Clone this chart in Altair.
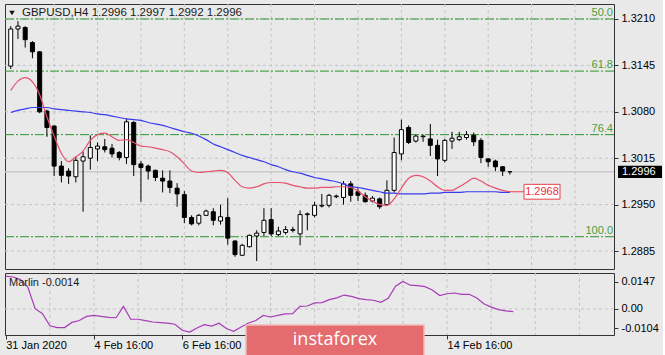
import altair as alt
import pandas as pd

# ---------------- data ----------------
symbol_header = ["GBPUSD,H4  1.2996 1.2997 1.2992 1.2996"]
indicator_header = ["Marlin -0.0014"]

opens = [1.3144, 1.3196, 1.3198, 1.3177, 1.3164, 1.3081, 1.3060, 1.3004, 1.2997, 1.2989,
         1.3011, 1.3015, 1.3028, 1.3031, 1.3029, 1.3023, 1.3016, 1.3065, 1.3007, 1.3004,
         1.2998, 1.2987, 1.2983, 1.2973, 1.2964, 1.2932, 1.2924, 1.2935, 1.2940, 1.2927,
         1.2932, 1.2899, 1.2879, 1.2891, 1.2906, 1.2911, 1.2929, 1.2908, 1.2911, 1.2914,
         1.2909, 1.2936, 1.2935, 1.2948, 1.2949, 1.2961, 1.2960, 1.2979, 1.2968, 1.2963,
         1.2955, 1.2958, 1.2950, 1.2970, 1.3021, 1.3058, 1.3039, 1.3045, 1.3042, 1.3033,
         1.3012, 1.3039, 1.3041, 1.3044, 1.3047, 1.3040, 1.3014, 1.3011, 1.3003, 1.2996]
highs = [1.3200, 1.3207, 1.3200, 1.3179, 1.3165, 1.3083, 1.3061, 1.3011, 1.3001, 1.3017,
         1.3024, 1.3047, 1.3037, 1.3042, 1.3035, 1.3025, 1.3070, 1.3067, 1.3011, 1.3006,
         1.2999, 1.2998, 1.2998, 1.2980, 1.2969, 1.2935, 1.2937, 1.2943, 1.2945, 1.2950,
         1.2959, 1.2900, 1.2895, 1.2908, 1.2914, 1.2945, 1.2945, 1.2919, 1.2920, 1.2919,
         1.2942, 1.2939, 1.2954, 1.2965, 1.2965, 1.2964, 1.2983, 1.2983, 1.2973, 1.2967,
         1.2962, 1.2960, 1.2984, 1.3044, 1.3069, 1.3061, 1.3048, 1.3048, 1.3063, 1.3041,
         1.3042, 1.3052, 1.3052, 1.3053, 1.3051, 1.3043, 1.3015, 1.3013, 1.3004, 1.2997]
lows = [1.3140, 1.3182, 1.3170, 1.3155, 1.3078, 1.3045, 1.2990, 1.2981, 1.2979, 1.2981,
        1.2940, 1.2999, 1.3011, 1.3023, 1.3016, 1.3012, 1.3007, 1.2990, 1.2954, 1.2985,
        1.2983, 1.2967, 1.2966, 1.2947, 1.2924, 1.2921, 1.2921, 1.2934, 1.2921, 1.2922,
        1.2894, 1.2877, 1.2878, 1.2890, 1.2871, 1.2906, 1.2906, 1.2906, 1.2908, 1.2911,
        1.2893, 1.2914, 1.2932, 1.2946, 1.2946, 1.2959, 1.2950, 1.2954, 1.2955, 1.2953,
        1.2953, 1.2944, 1.2948, 1.2967, 1.3012, 1.3035, 1.3037, 1.3038, 1.3018, 1.2990,
        1.3009, 1.3028, 1.3039, 1.3041, 1.3032, 1.3008, 1.3003, 1.2997, 1.2990, 1.2992]
closes = [1.3196, 1.3200, 1.3181, 1.3164, 1.3080, 1.3058, 1.3004, 1.2991, 1.2990, 1.3012,
          1.3017, 1.3030, 1.3032, 1.3027, 1.3021, 1.3016, 1.3066, 1.3006, 1.3002, 1.2997,
          1.2988, 1.2983, 1.2974, 1.2965, 1.2932, 1.2923, 1.2935, 1.2941, 1.2928, 1.2933,
          1.2903, 1.2880, 1.2893, 1.2907, 1.2910, 1.2928, 1.2909, 1.2913, 1.2915, 1.2915,
          1.2936, 1.2937, 1.2949, 1.2949, 1.2963, 1.2962, 1.2979, 1.2963, 1.2963, 1.2954,
          1.2959, 1.2947, 1.2970, 1.3023, 1.3055, 1.3037, 1.3046, 1.3046, 1.3033, 1.3014,
          1.3040, 1.3043, 1.3045, 1.3048, 1.3038, 1.3016, 1.3010, 1.3003, 1.2997, 1.2996]

ma_fast = [1.3110, 1.3123, 1.3128, 1.3122, 1.3104, 1.3073, 1.3046, 1.3022, 1.3010, 1.3017,
           1.3025, 1.3040, 1.3048, 1.3050, 1.3045, 1.3040, 1.3041, 1.3037, 1.3032, 1.3031,
           1.3029, 1.3027, 1.3024, 1.3017, 1.3007, 1.2997, 1.2995, 1.2996, 1.2997, 1.2998,
           1.2995, 1.2984, 1.2975, 1.2973, 1.2975, 1.2979, 1.2981, 1.2981, 1.2980, 1.2977,
           1.2975, 1.2973, 1.2973, 1.2974, 1.2974, 1.2975, 1.2975, 1.2974, 1.2969, 1.2961,
           1.2955, 1.2950, 1.2949, 1.2958, 1.2973, 1.2987, 1.2991, 1.2989, 1.2983, 1.2975,
           1.2970, 1.2970, 1.2975, 1.2981, 1.2987, 1.2983, 1.2977, 1.2973, 1.2970, 1.2968]
ma_slow = [1.3079, 1.3082, 1.3084, 1.3086, 1.3086, 1.3086, 1.3084, 1.3083, 1.3082, 1.3081,
           1.3080, 1.3079, 1.3077, 1.3076, 1.3074, 1.3072, 1.3070, 1.3069, 1.3068, 1.3065,
           1.3063, 1.3061, 1.3058, 1.3055, 1.3052, 1.3050, 1.3046, 1.3041, 1.3035, 1.3031,
           1.3027, 1.3023, 1.3019, 1.3016, 1.3013, 1.3010, 1.3006, 1.3003, 1.2999, 1.2996,
           1.2994, 1.2991, 1.2988, 1.2986, 1.2984, 1.2982, 1.2979, 1.2975, 1.2974, 1.2972,
           1.2970, 1.2968, 1.2966, 1.2966, 1.2965, 1.2965, 1.2965, 1.2965, 1.2966, 1.2966,
           1.2967, 1.2967, 1.2967, 1.2968, 1.2968, 1.2968, 1.2968, 1.2968, 1.2967, 1.2967]
marlin = [0.0177, 0.0172, 0.0158, 0.0118, 0.0002, -0.0025, -0.0090, -0.0100, -0.0100, -0.0072,
          -0.0062, -0.0040, -0.0034, -0.0040, -0.0045, -0.0047, 0.0014, -0.0055, -0.0055, -0.0062,
          -0.0070, -0.0073, -0.0076, -0.0082, -0.0114, -0.0124, -0.0102, -0.0084, -0.0092, -0.0076,
          -0.0105, -0.0120, -0.0097, -0.0075, -0.0062, -0.0035, -0.0043, -0.0034, -0.0026, -0.0025,
          0.0014, 0.0016, 0.0033, 0.0034, 0.0050, 0.0060, 0.0075, 0.0068, 0.0056, 0.0050,
          0.0047, 0.0036, 0.0058, 0.0122, 0.0148, 0.0128, 0.0126, 0.0120, 0.0102, 0.0072,
          0.0082, 0.0086, 0.0079, 0.0079, 0.0060, 0.0028, 0.0010, -0.0003, -0.0010, -0.0014]

fib_prices = [1.3210, 1.3137, 1.3048, 1.2905]
fib_labels = ["50.0", "61.8", "76.4", "100.0"]
price_ticks = [1.3210, 1.3145, 1.3080, 1.3015, 1.2950, 1.2885]
bid_price = [1.2996]
marlin_ticks = [0.0147, 0.0, -0.0104]
marlin_tick_labels = ["0.0147", "0.00", "-0.0104"]
# the 10 Feb and 12 Feb labels sit under the watermark in the reference, so only visible ones
date_tick_pos = [0, 12, 24, 60]
date_tick_labels = ["31 Jan 2020", "4 Feb 16:00", "6 Feb 16:00", "14 Feb 16:00"]
grid_pos = [6, 12, 18, 24, 30, 36, 42, 48, 54, 60, 66, 72, 78]
watermark = ["instaforex"]

# ---------------- tables ----------------
idx = list(range(len(closes)))
candles = pd.DataFrame({"i": idx, "o": opens, "h": highs, "l": lows, "c": closes})
lines = pd.DataFrame({"i": idx, "fast": ma_fast, "slow": ma_slow, "marlin": marlin})
fib_df = pd.DataFrame({"p": fib_prices, "lab": fib_labels})
ticks_df = pd.DataFrame({"p": price_ticks})
grid_df = pd.DataFrame({"g": grid_pos})
bid_df = pd.DataFrame({"p": bid_price, "lab": [f"{bid_price[0]:.4f}"]})
ma_lab_df = pd.DataFrame({"i": [idx[-1]], "p": [ma_fast[-1]], "lab": [f"{ma_fast[-1]:.4f}"]})
zero_df = pd.DataFrame({"m": [0.0]})

FONT = "Liberation Sans"
W, H1, H2 = 609, 265, 62
xs = alt.Scale(domain=[-0.1, 82.7], nice=False, zero=False)
ys = alt.Scale(domain=[1.28598, 1.32310], nice=False, zero=False)
ms = alt.Scale(domain=[-0.01397, 0.01934], nice=False, zero=False)
GRID = "#c4c4c4"
DASH = [3, 3]
FIB_DASH = [9, 2, 2, 2]

x_label_expr = " : ".join(
    f"datum.value == {p} ? '{l}'" for p, l in zip(date_tick_pos, date_tick_labels)) + " : ''"
m_label_expr = " : ".join(
    f"datum.value == {p} ? '{l}'" for p, l in zip(marlin_ticks, marlin_tick_labels)) + " : ''"

Y_AX = alt.Axis(orient="right", values=price_ticks, format=".4f", grid=False, domain=False,
                ticks=True, tickSize=4, tickColor="#333", labelPadding=3, labelFont=FONT,
                labelFontSize=11, labelColor="#000", title=None, labelOverlap=False)
M_AX = alt.Axis(orient="right", values=marlin_ticks, labelExpr=m_label_expr, grid=False,
                domain=False, ticks=True, tickSize=4, tickColor="#333", labelPadding=3,
                labelFont=FONT, labelFontSize=11, labelColor="#000", title=None,
                labelOverlap=False)
X_AX = alt.Axis(orient="bottom", values=date_tick_pos, labelExpr=x_label_expr, grid=False,
                domain=False, ticks=True, tickSize=4, tickColor="#333", labelPadding=0,
                labelAlign="left", labelFlush=False, labelOverlap=False, labelFont=FONT,
                labelFontSize=11, labelColor="#000", title=None)

# ---------------- main price panel ----------------
hgrid = alt.Chart(ticks_df).mark_rule(color=GRID, strokeDash=DASH, strokeWidth=1).encode(
    y=alt.Y("p:Q", scale=ys, axis=Y_AX))
vgrid = alt.Chart(grid_df).mark_rule(color=GRID, strokeDash=DASH, strokeWidth=1).encode(
    x=alt.X("g:Q", scale=xs, axis=None))
bid_line = alt.Chart(bid_df).mark_rule(color="#c9c9c9", strokeWidth=1.5).encode(
    y=alt.Y("p:Q", scale=ys, axis=Y_AX))
fib_lines = alt.Chart(fib_df).mark_rule(color="#2b952b", strokeDash=FIB_DASH, strokeWidth=1).encode(
    y=alt.Y("p:Q", scale=ys, axis=Y_AX))
fib_text = alt.Chart(fib_df).mark_text(align="right", baseline="bottom", dy=-1, font=FONT,
                                       fontSize=11, color="#4b9e3c").encode(
    x=alt.value(W - 1), y=alt.Y("p:Q", scale=ys, axis=Y_AX), text="lab:N")
wicks = alt.Chart(candles).mark_rule(color="#000", strokeWidth=1, clip=True).encode(
    x=alt.X("i:Q", scale=xs, axis=None), y=alt.Y("l:Q", scale=ys, axis=Y_AX), y2="h:Q")
bodies = alt.Chart(candles).mark_bar(size=4, stroke="#000", strokeWidth=1, clip=True).encode(
    x=alt.X("i:Q", scale=xs, axis=None), y=alt.Y("o:Q", scale=ys, axis=Y_AX), y2="c:Q",
    fill=alt.condition("datum.c >= datum.o", alt.value("#ffffff"), alt.value("#000000")))
slow_line = alt.Chart(lines).mark_line(color="#3a3af0", strokeWidth=1.2, interpolate="monotone",
                                       clip=True).encode(
    x=alt.X("i:Q", scale=xs, axis=None), y=alt.Y("slow:Q", scale=ys, axis=Y_AX))
fast_line = alt.Chart(lines).mark_line(color="#e8506c", strokeWidth=1.2, interpolate="monotone",
                                       clip=True).encode(
    x=alt.X("i:Q", scale=xs, axis=None), y=alt.Y("fast:Q", scale=ys, axis=Y_AX))
ma_conn = alt.Chart(ma_lab_df).mark_rule(color="#e8404c", strokeWidth=1).encode(
    x=alt.X("i:Q", scale=xs, axis=None), x2=alt.value(519), y=alt.Y("p:Q", scale=ys, axis=Y_AX))
ma_box = alt.Chart(ma_lab_df).transform_calculate(
    top="datum.p + 0.00104", bot="datum.p - 0.00104").mark_rect(
    fill="#ffffff", stroke="#e8404c", strokeWidth=1).encode(
    x=alt.value(519), x2=alt.value(555), y=alt.Y("top:Q", scale=ys, axis=Y_AX), y2="bot:Q")
ma_txt = alt.Chart(ma_lab_df).mark_text(align="center", baseline="middle", font=FONT,
                                        fontSize=11, color="#e8303c").encode(
    x=alt.value(537), y=alt.Y("p:Q", scale=ys, axis=Y_AX), text="lab:N")
bid_box = alt.Chart(bid_df).transform_calculate(
    top="datum.p + 0.00086", bot="datum.p - 0.00086").mark_rect(fill="#000000").encode(
    x=alt.value(613), x2=alt.value(657), y=alt.Y("top:Q", scale=ys, axis=Y_AX), y2="bot:Q")
bid_txt = alt.Chart(bid_df).mark_text(align="left", baseline="middle", font=FONT, fontSize=11,
                                      color="#ffffff").encode(
    x=alt.value(617), y=alt.Y("p:Q", scale=ys, axis=Y_AX), text="lab:N")
head_df = pd.DataFrame({"t": symbol_header})
head_tri = alt.Chart(head_df).mark_point(shape="triangle-down", filled=True, color="#111",
                                         size=30, opacity=1).encode(
    x=alt.value(7), y=alt.value(9))
head_txt = alt.Chart(head_df).mark_text(align="left", baseline="middle", font=FONT,
                                        fontSize=11.5, color="#1a1a1a").encode(
    x=alt.value(17), y=alt.value(9), text="t:N")

main = alt.layer(hgrid, vgrid, bid_line, fib_lines, fib_text, wicks, bodies, slow_line,
                 fast_line, ma_conn, ma_box, ma_txt, bid_box, bid_txt, head_tri,
                 head_txt).properties(width=W, height=H1)

# ---------------- Marlin panel ----------------
vgrid2 = alt.Chart(grid_df).mark_rule(color=GRID, strokeDash=DASH, strokeWidth=1).encode(
    x=alt.X("g:Q", scale=xs, axis=X_AX))
zero_line = alt.Chart(zero_df).mark_rule(color=GRID, strokeDash=DASH, strokeWidth=1).encode(
    y=alt.Y("m:Q", scale=ms, axis=M_AX))
marlin_line = alt.Chart(lines).mark_line(color="#a63cb6", strokeWidth=1.2, clip=True).encode(
    x=alt.X("i:Q", scale=xs, axis=X_AX),
    y=alt.Y("marlin:Q", scale=ms, axis=M_AX))
ind_df = pd.DataFrame({"t": indicator_header})
ind_txt = alt.Chart(ind_df).mark_text(align="left", baseline="middle", font=FONT, fontSize=11,
                                      color="#1a1a1a").encode(
    x=alt.value(4), y=alt.value(10), text="t:N")
wm_df = pd.DataFrame({"t": watermark})
wm_box = alt.Chart(wm_df).mark_rect(fill="#e46c6e", stroke="#f2b8b8", strokeWidth=1.5).encode(
    x=alt.value(241), x2=alt.value(419), y=alt.value(52), y2=alt.value(83))
wm_txt = alt.Chart(wm_df).mark_text(align="center", baseline="middle", font="Open Sans",
                                    fontSize=18, color="#ffffff").encode(
    x=alt.value(330), y=alt.value(67), text="t:N")

sub = alt.layer(vgrid2, zero_line, marlin_line, ind_txt, wm_box, wm_txt).properties(
    width=W, height=H2)

chart = alt.vconcat(main, sub, spacing=2).properties(
    padding={"left": 3, "top": 3, "right": 0, "bottom": 0},
    background="#e9e9e9",
).configure_view(stroke="#333333", strokeWidth=1)

chart.save("out.html", embed_options={"renderer": "svg", "actions": False})
